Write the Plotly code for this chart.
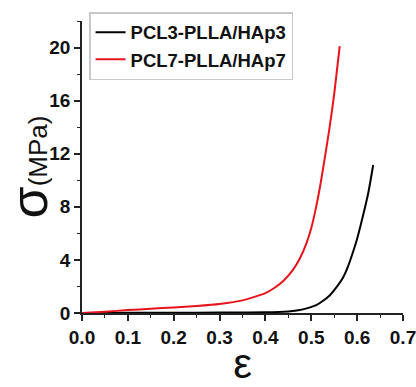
import plotly.graph_objects as go

# Data
red_name = "PCL7-PLLA/HAp7"
red_strain = [0.0, 0.05, 0.1, 0.15, 0.2, 0.25, 0.3, 0.35, 0.4, 0.42, 0.44, 0.46, 0.475, 0.49, 0.5, 0.51, 0.52, 0.53, 0.54, 0.55, 0.562]
red_stress = [0.0, 0.1, 0.22, 0.32, 0.42, 0.53, 0.68, 0.95, 1.5, 1.9, 2.45, 3.25, 4.1, 5.3, 6.4, 7.9, 9.7, 11.8, 14.0, 16.5, 20.1]

black_name = "PCL3-PLLA/HAp3"
black_strain = [0.0, 0.1, 0.2, 0.3, 0.35, 0.4, 0.45, 0.475, 0.49, 0.511, 0.525, 0.54, 0.555, 0.569, 0.58, 0.591, 0.6, 0.609, 0.624, 0.635]
black_stress = [0.0, 0.01, 0.02, 0.03, 0.04, 0.05, 0.12, 0.22, 0.35, 0.59, 0.9, 1.32, 1.95, 2.66, 3.5, 4.6, 5.6, 6.8, 9.0, 11.15]

x_ticks = [0.0, 0.1, 0.2, 0.3, 0.4, 0.5, 0.6, 0.7]
y_ticks = [0, 4, 8, 12, 16, 20]

tick_font = dict(family="Liberation Sans, Arial", size=19, color="#111")

fig = go.Figure()
fig.add_trace(go.Scatter(x=black_strain, y=black_stress, mode="lines", name=f"<b>{black_name}</b>",
                         line=dict(color="black", width=2, shape="spline", smoothing=0.6)))
fig.add_trace(go.Scatter(x=red_strain, y=red_stress, mode="lines", name=f"<b>{red_name}</b>",
                         line=dict(color="#e8141c", width=2, shape="spline", smoothing=0.6)))

fig.update_layout(
    width=416, height=387,
    margin=dict(l=82, r=13, t=13, b=74),
    paper_bgcolor="white", plot_bgcolor="white",
    showlegend=True,
    legend=dict(x=0.022, y=1.03, xanchor="left", yanchor="top",
                bordercolor="#c8c8c8", borderwidth=1.5, bgcolor="white",
                font=dict(family="Liberation Sans, Arial", size=18.5, color="#111")),
    xaxis=dict(range=[0, 0.7], tickvals=x_ticks, ticktext=[f"<b>{v:.1f}</b>" for v in x_ticks],
               automargin=False, ticklabeloverflow="allow",
               showgrid=False, zeroline=False, showline=True, linecolor="#222", linewidth=1.5,
               ticks="outside", ticklen=6, tickwidth=1.5, tickcolor="#222",
               minor=dict(dtick=0.05, tick0=0, ticks="outside", ticklen=3, tickwidth=1.2, tickcolor="#222"),
               tickfont=tick_font,
               title=dict(text="ε", font=dict(family="Liberation Sans, Arial", size=42, color="#111"), standoff=5)),
    yaxis=dict(range=[0, 22], tickvals=y_ticks, ticktext=[f"<b>{v}</b>" for v in y_ticks],
               automargin=False,
               showgrid=False, zeroline=False, showline=True, linecolor="#222", linewidth=1.5,
               ticks="outside", ticklen=6, tickwidth=1.5, tickcolor="#222",
               minor=dict(dtick=2, tick0=0, ticks="outside", ticklen=3, tickwidth=1.2, tickcolor="#222"),
               tickfont=tick_font,
               title=dict(text="σ<span style='font-size:26px'>(MPa)</span>",
                          font=dict(family="Liberation Sans, Arial", size=52, color="#111"), standoff=10)),
)

fig.write_html("out.html", config={"displayModeBar": False},
               post_script="document.body.style.margin='0';document.body.style.overflow='hidden';")
